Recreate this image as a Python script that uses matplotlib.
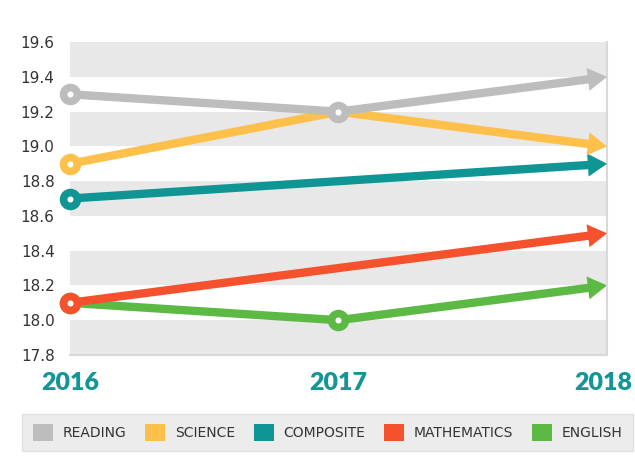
import matplotlib.pyplot as plt
import matplotlib.transforms as mtransforms
from matplotlib.patches import Patch

# data
years = [2016, 2017, 2018]
subjects = ['READING', 'SCIENCE', 'COMPOSITE', 'MATHEMATICS', 'ENGLISH']
reading = [19.3, 19.2, 19.4]
science = [18.9, 19.2, 19.0]
composite = [18.7, 18.8, 18.9]
mathematics = [18.1, 18.3, 18.5]
english = [18.1, 18.0, 18.2]
y_ticks = [17.8, 18.0, 18.2, 18.4, 18.6, 18.8, 19.0, 19.2, 19.4, 19.6]

colors = {
    'READING': '#bdbdbd',
    'SCIENCE': '#fdc04a',
    'COMPOSITE': '#0e9594',
    'MATHEMATICS': '#f4512c',
    'ENGLISH': '#5cb944',
}
series = {
    'READING': reading,
    'SCIENCE': science,
    'COMPOSITE': composite,
    'MATHEMATICS': mathematics,
    'ENGLISH': english,
}
# which points carry a ring marker
ring_points = {
    'READING': [0, 1],
    'SCIENCE': [0],
    'COMPOSITE': [0],
    'MATHEMATICS': [0],
    'ENGLISH': [0, 1],
}

fig = plt.figure(figsize=(6.35, 4.58), dpi=100)
ax = fig.add_axes([0.110, 0.225, 0.846, 0.683])

# alternating bands, grey on top
for i in range(len(y_ticks) - 1):
    if (len(y_ticks) - 2 - i) % 2 == 0:
        ax.axhspan(y_ticks[i], y_ticks[i + 1], color='#e8e8e8', lw=0, zorder=0)

lw = 6
draw_order = ['ENGLISH', 'MATHEMATICS', 'COMPOSITE', 'SCIENCE', 'READING']
for z, name in enumerate(draw_order):
    vals = series[name]
    c = colors[name]
    ax.plot(years[:2], vals[:2], color=c, lw=lw, solid_capstyle='round', zorder=2 + z, clip_on=False)
    ax.annotate('', xy=(years[2], vals[2]), xytext=(years[1], vals[1]),
                arrowprops=dict(arrowstyle='-|>,head_length=0.5,head_width=0.3', color=c, lw=lw,
                                mutation_scale=10, shrinkA=0, shrinkB=0,
                                joinstyle='miter', capstyle='butt'),
                zorder=2 + z, annotation_clip=False)

for z, name in enumerate(draw_order):
    vals = series[name]
    for i in ring_points[name]:
        ax.plot(years[i], vals[i], marker='o', ms=10, mew=5.5, mfc='white', mec=colors[name],
                zorder=10 + z, clip_on=False)

ax.set_xlim(2016, 2018)
ax.set_ylim(17.8, 19.6)
ax.set_yticks(y_ticks)
ax.set_yticklabels([f'{v:.1f}' for v in y_ticks], fontsize=11, color='#333333')
ax.set_xticks(years)
ax.set_xticklabels([str(y) for y in years], fontsize=18, fontweight='heavy',
                   color='#149596', family='Lato')
ax.tick_params(axis='both', length=0)
ax.tick_params(axis='y', pad=11)
ax.tick_params(axis='x', pad=12)
# nudge the last year label so it stays inside the figure
last = ax.get_xticklabels()[-1]
last.set_transform(last.get_transform() + mtransforms.ScaledTranslation(-4 / 100, 0, fig.dpi_scale_trans))
for s in ['left', 'top']:
    ax.spines[s].set_visible(False)
for s in ['right', 'bottom']:
    ax.spines[s].set_color('#d9d9d9')
    ax.spines[s].set_linewidth(1.5)

handles = [Patch(facecolor=colors[n], edgecolor='none', label=n) for n in subjects]
leg = fig.legend(handles=handles, loc='center', ncol=5, mode='expand',
                 bbox_to_anchor=(0.035, 0.013, 0.962, 0.085),
                 fontsize=10, handlelength=1.45, handleheight=1.45, handletextpad=0.7,
                 frameon=True, fancybox=False, borderaxespad=0, borderpad=0.75)
leg.get_frame().set_facecolor('#e8e8e8')
leg.get_frame().set_edgecolor('#dcdcdc')
for t in leg.get_texts():
    t.set_color('#333333')

fig.savefig('out.png', dpi=100)
